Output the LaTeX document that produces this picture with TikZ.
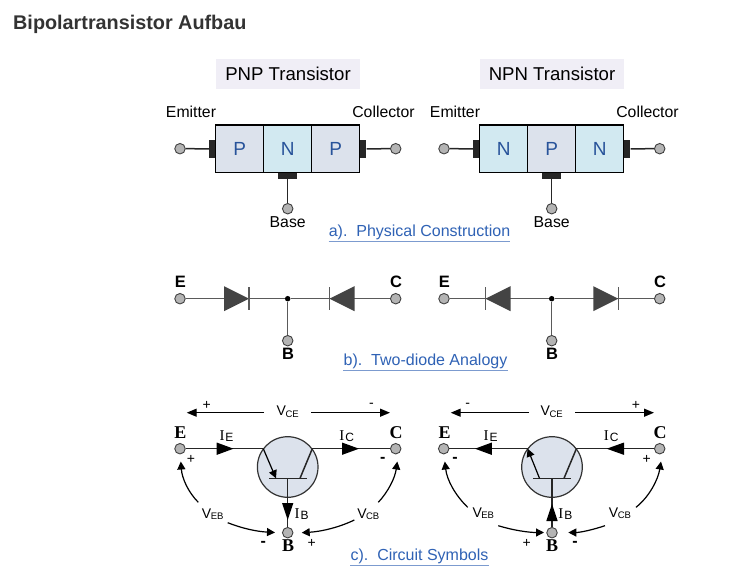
\documentclass[tikz,border=0pt]{standalone}
\usepackage{fontspec}
\setmainfont{Liberation Sans}
\newfontfamily\serifb{Liberation Serif}
\usetikzlibrary{arrows.meta}
\definecolor{linkblue}{HTML}{2F62B5}
\definecolor{linkline}{HTML}{7C9BCF}
\definecolor{titlegray}{HTML}{333333}
\definecolor{termgray}{HTML}{B4B4B4}
\definecolor{pfill}{HTML}{DCE2EC}
\definecolor{nfill}{HTML}{D2E9F1}
\definecolor{headbg}{HTML}{F0EEF6}
\definecolor{diodegray}{HTML}{444444}
\definecolor{wiregray}{HTML}{5A5A5A}
\newcommand{\fs}[1]{\fontsize{#1}{#1}\selectfont}
\newcommand{\vlab}[2]{{\fs{14}#1\kern-0.5pt\raisebox{-1.5pt}{\fs{9.5}#2}}}
\newcommand{\ilab}[1]{{\fs{15}\serifb I\kern1pt\raisebox{-1pt}{\fs{12}\rmfamily #1}}}
\tikzset{
  term/.style={circle,draw=black!75,fill=termgray,line width=0.9pt,minimum size=10.5pt,inner sep=0pt},
  slab/.style={rectangle,draw=black,line width=1.4pt,minimum width=48pt,minimum height=47.5pt,inner sep=0pt,font=\fs{19},text=linkblue!85!black},
  pslab/.style={slab,fill=pfill},
  nslab/.style={slab,fill=nfill},
  contactv/.style={rectangle,fill=black!85,minimum width=6.5pt,minimum height=18.5pt,inner sep=0pt},
  contacth/.style={rectangle,fill=black!85,minimum width=18.5pt,minimum height=6pt,inner sep=0pt},
  headbox/.style={rectangle,fill=headbg,minimum width=144pt,minimum height=30pt,inner sep=0pt,font=\fs{18.6}},
  lab/.style={inner sep=0pt,font=\fs{15.8}},
  wire/.style={line width=1.5pt,black!85},
  gwire/.style={line width=1.5pt,wiregray},
  captext/.style={inner sep=0pt,font=\fs{16},text=linkblue,text height=12pt,text depth=4.5pt},
  capline/.style={line width=1.2pt,linkline},
  ltr/.style={inner sep=0pt,font=\bfseries\fs{16.5}},
  cltr/.style={inner sep=0pt,font=\serifb\bfseries\fs{18}},
  signs/.style={inner sep=0pt,font=\fs{14}},
  bsigns/.style={inner sep=0pt,font=\bfseries\fs{16}},
  arrowline/.style={line width=1.3pt,black,-{Triangle[length=10pt,width=8pt]}},
  thinarrow/.style={line width=1.2pt,black,-{Triangle[length=8pt,width=8pt]}},
  trcircle/.style={circle,draw=black!80,fill=pfill,line width=1.2pt,minimum size=60.6pt,inner sep=0pt},
  jdot/.style={circle,fill=black,minimum size=5.5pt,inner sep=0pt},
}
\begin{document}
\begin{tikzpicture}[x=1pt,y=-1pt]
\useasboundingbox[fill=white] (0,0) rectangle (755,571);
\node[anchor=base west,inner sep=0pt,text=titlegray,font=\bfseries\fs{19.8}] (title) at (13,29.5) {Bipolartransistor Aufbau};

% ---------- a) physical
\node[headbox] (hp) at (288,73.7) {PNP Transistor};
\node[headbox] (hn) at (552,73.7) {NPN Transistor};
\node[pslab] (p1) at (239.7,148.8) {P};
\node[nslab] (p2) at (287.7,148.8) {N};
\node[pslab] (p3) at (335.7,148.8) {P};
\node[nslab] (n1) at (503.7,148.8) {N};
\node[pslab] (n2) at (551.7,148.8) {P};
\node[nslab] (n3) at (599.7,148.8) {N};
\node[contactv] (pcl) at (212.2,148.8) {};
\node[contactv] (pcr) at (363.2,148.8) {};
\node[contacth] (pcb) at (287.7,175.8) {};
\node[contactv] (ncl) at (476.2,148.8) {};
\node[contactv] (ncr) at (627.2,148.8) {};
\node[contacth] (ncb) at (551.7,175.8) {};
\node[term] (pe) at (180,148.7) {};
\node[term] (pc) at (395.7,148.7) {};
\node[term] (pb) at (287.7,208.7) {};
\node[term] (ne) at (444,148.7) {};
\node[term] (nc) at (659.7,148.7) {};
\node[term] (nb) at (551.7,208.7) {};
\draw[wire] (pe) -- (pcl);
\draw[wire] (pc) -- (pcr);
\draw[wire] (pb) -- (pcb);
\draw[wire] (ne) -- (ncl);
\draw[wire] (nc) -- (ncr);
\draw[wire] (nb) -- (ncb);
\node[lab] at (191,111.5) {Emitter};
\node[lab] at (383.5,111.5) {Collector};
\node[lab] at (287.7,222) {Base};
\node[lab] at (455,111.5) {Emitter};
\node[lab] at (647.5,111.5) {Collector};
\node[lab] at (551.7,222) {Base};
\node[captext] (capa) at (419.5,233) {a).\ \ Physical Construction};
\draw[capline] (capa.south west) -- (capa.south east);

% ---------- b) two-diode
\node[term] (de1) at (180,298.7) {};
\node[term] (dc1) at (395.7,298.7) {};
\node[term] (db1) at (287.7,340.7) {};
\node[jdot] (dj1) at (287.7,298.7) {};
\node[term] (de2) at (444,298.7) {};
\node[term] (dc2) at (659.7,298.7) {};
\node[term] (db2) at (551.7,340.7) {};
\node[jdot] (dj2) at (551.7,298.7) {};
\draw[gwire] (de1) -- (dj1);
\draw[gwire] (dc1) -- (dj1);
\draw[gwire] (db1) -- (dj1);
\draw[gwire] (de2) -- (dj2);
\draw[gwire] (dc2) -- (dj2);
\draw[gwire] (db2) -- (dj2);
\fill[diodegray] (224,286.2) -- (249,298.7) -- (224,311.2) -- cycle;
\draw[gwire] (249,287) -- (249,310);
\fill[diodegray] (354.5,286.2) -- (329.5,298.7) -- (354.5,311.2) -- cycle;
\draw[gwire] (329.5,287) -- (329.5,310);
\fill[diodegray] (510.5,286.2) -- (485.5,298.7) -- (510.5,311.2) -- cycle;
\draw[gwire] (485.5,287) -- (485.5,310);
\fill[diodegray] (593.3,286.2) -- (618.3,298.7) -- (593.3,311.2) -- cycle;
\draw[gwire] (618.3,287) -- (618.3,310);
\node[ltr] at (180.3,282) {E};
\node[ltr] at (396,282) {C};
\node[ltr] at (288,354) {B};
\node[ltr] at (444.3,282) {E};
\node[ltr] at (660,282) {C};
\node[ltr] at (552,354) {B};
\node[captext] (capb) at (425.5,362) {b).\ \ Two-diode Analogy};
\draw[capline] (capb.south west) -- (capb.south east);

% ---------- c) left symbol
\node[trcircle] (t1) at (287.7,467) {};
\node[term] (se1) at (180,448.7) {};
\node[term] (sc1) at (395.7,448.7) {};
\node[term] (sb1) at (287.7,532.7) {};
\coordinate (t1e) at (263.3,448.7);
\coordinate (t1c) at (312.3,448.7);
\coordinate (t1bl) at (269.3,478.3);
\coordinate (t1br) at (306.7,478.3);
\coordinate (t1b) at (287.7,478.3);
\draw[wire] (se1) -- (t1e);
\draw[wire] (sc1) -- (t1c);
\draw[wire] (t1bl) -- (t1br);
\draw[wire] (sb1) -- (t1b);
\draw[wire] (t1c) -- (300,478.3);
\draw[thinarrow] (t1e) -- (276,478.3);
\fill (216.7,442.5) -- (233.5,448.7) -- (216.7,454.9) -- cycle;
\fill (342,442.5) -- (359,448.7) -- (342,454.9) -- cycle;
\fill (282,503) -- (293.4,503) -- (287.7,520) -- cycle;
\node[cltr] at (180.5,433) {E};
\node[cltr] at (396,433) {C};
\node[cltr] at (288,546) {B};
\node[inner sep=0pt] (v1) at (287.7,411.5) {\vlab{V}{CE}};
\coordinate (v1l) at (186.7,412.7);
\coordinate (v1r) at (390,412.7);
\draw[arrowline] (264,412.7) -- (v1l);
\draw[arrowline] (311,412.7) -- (v1r);
\node[signs] at (206.7,405) {+};
\node[signs] at (371.5,405.5) {-};
\node[inner sep=0pt] at (226.5,436) {\ilab{E}};
\node[inner sep=0pt] at (346.7,436) {\ilab{C}};
\node[inner sep=0pt] at (301.7,514) {\ilab{B}};
\node[inner sep=0pt] (veb1) at (212.7,514) {\vlab{V}{EB}};
\node[inner sep=0pt] (vcb1) at (368.3,514) {\vlab{V}{CB}};
\draw[thinarrow] (198.3,502.3) .. controls (188,492) and (182,478) .. (180.8,461.5);
\draw[thinarrow] (227.7,522.7) .. controls (241,528) and (256,531.5) .. (275,532.5);
\draw[thinarrow] (378.3,502.3) .. controls (388,492) and (395,478) .. (397.3,461.5);
\draw[thinarrow] (354.3,520) .. controls (340,527) and (322,531.5) .. (301.7,532.7);
\node[signs] at (191,459.5) {+};
\node[bsigns] at (382.7,460) {-};
\node[bsigns] at (263.3,543.5) {-};
\node[signs] at (311.7,543.5) {+};

% ---------- c) right symbol
\node[trcircle] (t2) at (552,467) {};
\node[term] (se2) at (443.7,448.7) {};
\node[term] (sc2) at (659.7,448.7) {};
\node[term] (sb2) at (552,532.7) {};
\coordinate (t2e) at (527.6,448.7);
\coordinate (t2c) at (576.4,448.7);
\coordinate (t2bl) at (533.3,478.3);
\coordinate (t2br) at (570.7,478.3);
\coordinate (t2b) at (552,478.3);
\draw[wire] (se2) -- (t2e);
\draw[wire] (sc2) -- (t2c);
\draw[wire] (t2bl) -- (t2br);
\draw[wire] (sb2) -- (t2b);
\draw[wire] (t2c) -- (564,478.3);
\draw[thinarrow] (539.5,478.3) -- (t2e);
\fill (475,448.7) -- (491.8,442.5) -- (491.8,454.9) -- cycle;
\fill (606.7,448.7) -- (624,442.5) -- (624,454.9) -- cycle;
\fill (552,504) -- (557.7,521) -- (546.3,521) -- cycle;
\node[cltr] at (444.5,433) {E};
\node[cltr] at (660,433) {C};
\node[cltr] at (552,546) {B};
\node[inner sep=0pt] (v2) at (551.7,411.5) {\vlab{V}{CE}};
\coordinate (v2l) at (450.7,412.7);
\coordinate (v2r) at (654,412.7);
\draw[arrowline] (529,412.7) -- (v2l);
\draw[arrowline] (575,412.7) -- (v2r);
\node[signs] at (467.7,405.5) {-};
\node[signs] at (636,405) {+};
\node[inner sep=0pt] at (490.7,436) {\ilab{E}};
\node[inner sep=0pt] at (611.3,436) {\ilab{C}};
\node[inner sep=0pt] at (565.3,514) {\ilab{B}};
\node[inner sep=0pt] (veb2) at (483.3,513) {\vlab{V}{EB}};
\node[inner sep=0pt] (vcb2) at (620,513) {\vlab{V}{CB}};
\draw[thinarrow] (467.7,507.3) .. controls (455,495) and (447,480) .. (444.8,461.5);
\draw[thinarrow] (498.3,525.7) .. controls (512,530) and (528,532.5) .. (544,532.5);
\draw[thinarrow] (636,507.3) .. controls (649,497) and (658,480) .. (661,461.5);
\draw[thinarrow] (605,525.7) .. controls (592,530) and (580,532.5) .. (568.3,532.5);
\node[bsigns] at (455,460) {-};
\node[signs] at (646.7,459.5) {+};
\node[signs] at (526.7,543.5) {+};
\node[bsigns] at (575,543.5) {-};
\node[captext] (capc) at (419.5,557) {c).\ \ Circuit Symbols};
\draw[capline] (capc.south west) -- (capc.south east);
\end{tikzpicture}
\end{document}
